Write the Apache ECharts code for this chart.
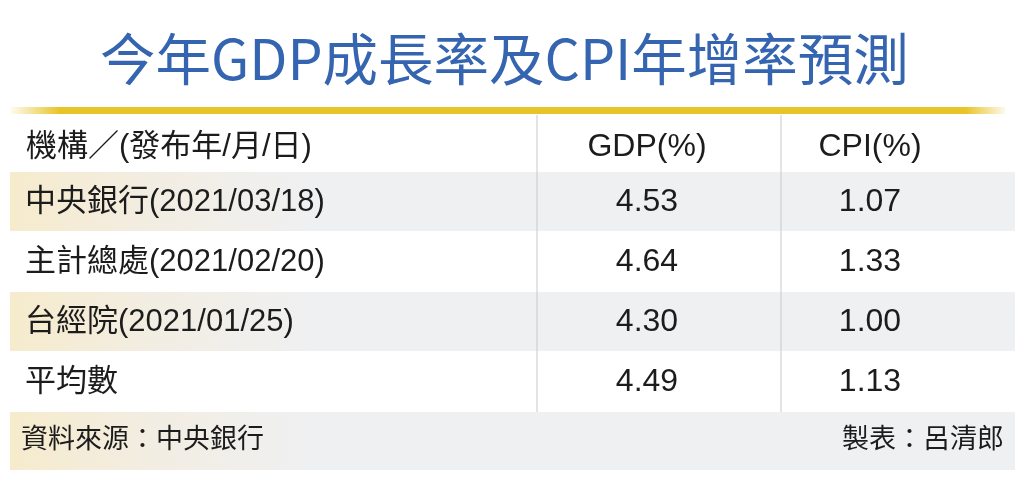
<!DOCTYPE html>
<html>
<head>
<meta charset="utf-8">
<script src="https://cdn.jsdelivr.net/npm/echarts@6/dist/echarts.min.js"></script>
<style>
    html, body { margin: 0; padding: 0; background: #fff; }
    #table-chart { width: 1024px; height: 503px; }
</style>
</head>
<body>
<div id="table-chart"></div>
<script>
const TITLE_TEXT = '今年GDP成長率及CPI年增率預測';
const HEADERS = ['機構／(發布年/月/日)', 'GDP(%)', 'CPI(%)'];
const INSTITUTIONS = ['中央銀行(2021/03/18)', '主計總處(2021/02/20)', '台經院(2021/01/25)', '平均數'];
const GDP_VALUES = ['4.53', '4.64', '4.30', '4.49'];
const CPI_VALUES = ['1.07', '1.33', '1.00', '1.13'];
const SOURCE_TEXT = '資料來源：中央銀行';
const AUTHOR_TEXT = '製表：呂清郎';

const FONT = "'Liberation Sans', 'Noto Sans CJK TC', sans-serif";
const TEXT_COLOR = '#1c1c1c';

let table_chart = echarts.init(document.getElementById('table-chart'));

/* Layout of the table, in pixels. */
let left = 10, right = 1015;
let header_top = 115, row_height = 60;
let col_lines = [537, 781];
let col_centers = [647, 870];

function shadedFill() {
    return new echarts.graphic.LinearGradient(0, 0, 1, 0, [
        { offset: 0, color: '#f6ebcc' },
        { offset: 0.12, color: '#f3ede0' },
        { offset: 0.3, color: '#eff0f2' },
        { offset: 1, color: '#eff0f2' }
    ]);
}

let elements = [];

// Title
elements.push({
    type: 'text',
    left: 100,
    top: 31,
    style: {
        text: TITLE_TEXT,
        font: "400 55.5px 'Noto Sans CJK TC', 'Liberation Sans', sans-serif",
        fill: '#3565b0'
    }
});

// Gold rule under the title
elements.push({
    type: 'rect',
    shape: { x: left, y: 107, width: right - left - 10, height: 7 },
    style: {
        fill: new echarts.graphic.LinearGradient(0, 0, 1, 0, [
            { offset: 0, color: 'rgba(232,196,40,0.05)' },
            { offset: 0.05, color: '#e8c428' },
            { offset: 0.96, color: '#e8c428' },
            { offset: 1, color: 'rgba(232,196,40,0.1)' }
        ])
    }
});

// Row backgrounds (odd rows + footer shaded)
let body_top = header_top + 57;
INSTITUTIONS.forEach(function (name, i) {
    if (i % 2 === 0) {
        elements.push({
            type: 'rect',
            shape: { x: left, y: body_top + i * row_height, width: right - left, height: row_height - 1 },
            style: { fill: shadedFill() }
        });
    }
});
let footer_top = body_top + INSTITUTIONS.length * row_height;
elements.push({
    type: 'rect',
    shape: { x: left, y: footer_top, width: right - left, height: 58 },
    style: { fill: shadedFill() }
});

// Column separators
col_lines.forEach(function (x) {
    elements.push({
        type: 'line',
        shape: { x1: x, y1: header_top, x2: x, y2: footer_top },
        style: { stroke: '#c9c9c9', lineWidth: 1 }
    });
});

function cellText(text, x, y, align, size) {
    return {
        type: 'text',
        x: x,
        y: y,
        style: {
            text: text,
            font: size + 'px ' + FONT,
            fill: TEXT_COLOR,
            align: align,
            verticalAlign: 'middle'
        }
    };
}

// Header
let header_mid = header_top + 32;
elements.push(cellText(HEADERS[0], 26, header_mid, 'left', 31));
elements.push(cellText(HEADERS[1], col_centers[0], header_mid, 'center', 32));
elements.push(cellText(HEADERS[2], col_centers[1], header_mid, 'center', 32));

// Body rows
INSTITUTIONS.forEach(function (name, i) {
    let mid = body_top + i * row_height + 30;
    elements.push(cellText(name, 25, mid, 'left', 31));
    elements.push(cellText(GDP_VALUES[i], col_centers[0], mid, 'center', 32));
    elements.push(cellText(CPI_VALUES[i], col_centers[1], mid, 'center', 32));
});

// Footer
elements.push(cellText(SOURCE_TEXT, 21, footer_top + 29, 'left', 27));
elements.push(cellText(AUTHOR_TEXT, 1004, footer_top + 29, 'right', 27));

table_chart.setOption({
    animation: false,
    graphic: { elements: elements }
});

window.addEventListener('resize', function () {
    table_chart.resize();
});
</script>
</body>
</html>
